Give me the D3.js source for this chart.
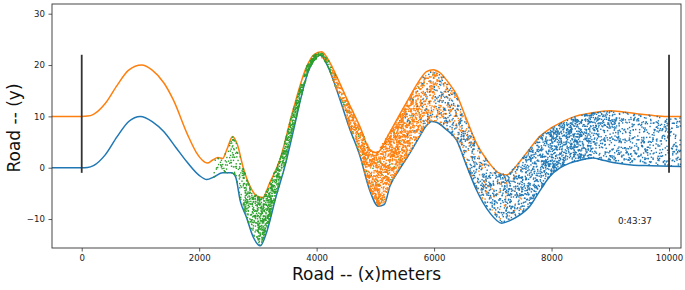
<!DOCTYPE html>
<html>
<head>
<meta charset="utf-8">
<script src="https://cdn.jsdelivr.net/npm/d3@7"></script>
<style>
  body { margin: 0; background: #fff; }
  svg { display: block; font-family: "DejaVu Sans", sans-serif; }
</style>
</head>
<body>
<svg id="chart" width="685" height="290"></svg>
<script>
// road edges (x in meters, y in road units)
const lowerX = [-506, 0, 100, 200, 400, 600, 800, 1000, 1200, 1400, 1600, 1800, 2000, 2130, 2250, 2400, 2550, 2620, 2700, 2800, 2920, 3040, 3150, 3300, 3460, 3600, 3720, 3850, 3950, 4060, 4200, 4400, 4550, 4740, 4900, 5050, 5150, 5250, 5400, 5590, 5750, 5870, 5960, 6050, 6200, 6380, 6550, 6720, 6950, 7150, 7290, 7450, 7630, 7800, 7970, 8150, 8310, 8500, 8700, 8900, 9100, 9400, 9700, 10204];
const lowerY = [0, 0, 0.05, 0.4, 2.5, 6, 9, 10, 9, 7, 4, 1, -1.5, -2.3, -1.8, -1.0, -1.0, -1.8, -6.5, -9.5, -13.5, -15.2, -12.5, -6, 0.3, 7, 13, 18.5, 20.8, 21.9, 19.5, 13.2, 8, 2.2, -4.3, -7.5, -7.2, -3.5, -0.5, 2.9, 6, 8.2, 9, 8.8, 7.5, 5.4, 0.5, -4.3, -8.8, -10.8, -10.3, -9.3, -7.5, -4.5, -1.7, 0, 0.9, 1.5, 1.9, 1.4, 0.9, 0.5, 0.4, 0.25];

const upperX = [-506, 0, 100, 200, 400, 600, 800, 1020, 1200, 1400, 1560, 1800, 1950, 2050, 2140, 2230, 2320, 2400, 2470, 2570, 2650, 2750, 2865, 2980, 3080, 3200, 3375, 3600, 3830, 3950, 4085, 4200, 4340, 4550, 4737, 4900, 5020, 5250, 5420, 5590, 5750, 5870, 5985, 6100, 6250, 6380, 6550, 6720, 6900, 7100, 7230, 7460, 7650, 7800, 8000, 8141, 8400, 8651, 8991, 9200, 9446, 9700, 9957, 10204];
const upperY = [10, 10, 10.05, 10.4, 12.5, 16, 19, 20, 19, 16.5, 13.2, 6.5, 3, 1.5, 0.9, 1.5, 2.0, 1.8, 3.5, 6.1, 4.5, 0, -3.6, -5.5, -5.8, -3, 1.6, 11.3, 19.7, 22, 22.6, 21, 17.8, 12.5, 8.0, 3.6, 2.9, 7.0, 10.5, 13.9, 17, 18.7, 19.1, 18.5, 16.5, 14.3, 9.5, 4.8, 1.5, -1.0, -1.4, 1.2, 4, 6.1, 7.8, 8.7, 10, 10.6, 11.1, 10.9, 10.5, 10.2, 10.0, 10.0];

// scatter: dots per 250 m stretch of road, by colour
const binStart = [2250, 2500, 2750, 3000, 3250, 3500, 3750, 4000, 4250, 4500, 4750, 5000, 5250, 5500, 5750, 6000, 6250, 6500, 6750, 7000, 7250, 7500, 7750, 8000, 8250, 8500, 8750, 9000, 9250, 9500, 9750, 10000];
const greenCounts  = [30, 80, 200, 320, 200, 180, 120, 50, 25, 20, 18, 20, 15, 8, 4, 0, 0, 0, 0, 0, 0, 0, 0, 0, 0, 0, 0, 0, 0, 0, 0, 0];
const orangeCounts = [0, 0, 0, 0, 0, 0, 0, 6, 70, 170, 280, 380, 380, 300, 190, 110, 70, 50, 40, 28, 18, 0, 0, 0, 0, 0, 0, 0, 0, 0, 0, 0];
const blueCounts   = [0, 0, 0, 0, 0, 0, 0, 0, 0, 0, 0, 0, 0, 15, 30, 70, 85, 95, 105, 120, 150, 190, 210, 220, 220, 180, 140, 120, 105, 100, 90, 80];
const binWidth = 250;

const yTicks = [-10, 0, 10, 20, 30];
const xTicks = [0, 2000, 4000, 6000, 8000, 10000];
const markers = [0, 10000];
const markerRange = [-1, 22];
const clockText = "0:43:37";

const blue = "#1f77b4", orange = "#ff7f0e", green = "#2ca02c";

const margin = {left: 52, top: 4, right: 4, bottom: 42};
const width = 685, height = 290;
const svg = d3.select("#chart");

const x = d3.scaleLinear().domain([-506, 10204]).range([margin.left, width - margin.right]);
const y = d3.scaleLinear().domain([-15.64, 31.89]).range([height - margin.bottom, margin.top]);

svg.append("clipPath").attr("id", "plotclip")
    .append("rect")
    .attr("x", margin.left).attr("y", margin.top)
    .attr("width", width - margin.left - margin.right)
    .attr("height", height - margin.top - margin.bottom);

const plot = svg.append("g").attr("clip-path", "url(#plotclip)");

// edges as piecewise functions for placing dots
const lowAt = d3.scaleLinear().domain(lowerX).range(lowerY);
const upAt = d3.scaleLinear().domain(upperX).range(upperY);

const line = d3.line().x(d => x(d[0])).y(d => y(d[1])).curve(d3.curveMonotoneX);

plot.append("path")
    .datum(lowerX.map((v, i) => [v, lowerY[i]]))
    .attr("d", line).attr("fill", "none")
    .attr("stroke", blue).attr("stroke-width", 1.5);
plot.append("path")
    .datum(upperX.map((v, i) => [v, upperY[i]]))
    .attr("d", line).attr("fill", "none")
    .attr("stroke", orange).attr("stroke-width", 1.5);

// integer hash -> fixed, evenly scattered spots inside each stretch of road
function hash01(i) {
    let h = Math.imul(i ^ 0x9e3779b9, 0x85ebca6b);
    h ^= h >>> 13;
    h = Math.imul(h, 0xc2b2ae35);
    h ^= h >>> 16;
    return (h >>> 0) / 4294967296;
}
let seq = 1;
function dotsFor(counts) {
    const pts = [];
    counts.forEach((n, k) => {
        for (let j = 0; j < n; j++) {
            const xv = binStart[k] + hash01(2 * seq) * binWidth;
            const t = hash01(2 * seq + 1);
            seq++;
            const lo = lowAt(xv), hi = upAt(xv);
            pts.push([xv, lo + (hi - lo) * t]);
        }
    });
    return pts;
}

[[greenCounts, green], [orangeCounts, orange], [blueCounts, blue]].forEach(([counts, c]) => {
    plot.append("g")
        .selectAll("rect")
        .data(dotsFor(counts))
        .join("rect")
        .attr("x", d => x(d[0]) - 0.7)
        .attr("y", d => y(d[1]) - 0.7)
        .attr("width", 1.4).attr("height", 1.4)
        .attr("fill", c);
});

plot.append("g")
    .selectAll("line")
    .data(markers)
    .join("line")
    .attr("x1", d => x(d)).attr("x2", d => x(d))
    .attr("y1", y(markerRange[0])).attr("y2", y(markerRange[1]))
    .attr("stroke", "#333").attr("stroke-width", 1.8);

plot.append("text")
    .attr("x", x(9130)).attr("y", y(-10.4))
    .attr("dominant-baseline", "middle")
    .attr("font-size", 8.8).attr("fill", "#222")
    .text(clockText);

// axes
const xAxis = svg.append("g")
    .attr("transform", `translate(0,${height - margin.bottom})`)
    .call(d3.axisBottom(x).tickValues(xTicks).tickFormat(d3.format("d")).tickSize(3.5).tickPadding(3.5));
const yAxis = svg.append("g")
    .attr("transform", `translate(${margin.left},0)`)
    .call(d3.axisLeft(y).tickValues(yTicks).tickFormat(d => d < 0 ? "\u2212" + Math.abs(d) : d).tickSize(3.5).tickPadding(3.5));
[xAxis, yAxis].forEach(a => {
    a.selectAll("text").attr("font-size", 8.6).attr("fill", "#222").attr("font-family", "DejaVu Sans");
    a.selectAll("line").attr("stroke", "#333").attr("stroke-width", 0.8);
    a.select(".domain").remove();
});

svg.append("rect")
    .attr("x", margin.left).attr("y", margin.top)
    .attr("width", width - margin.left - margin.right)
    .attr("height", height - margin.top - margin.bottom)
    .attr("fill", "none").attr("stroke", "#333").attr("stroke-width", 0.9);

svg.append("text")
    .attr("x", (margin.left + width - margin.right) / 2)
    .attr("y", 280)
    .attr("text-anchor", "middle")
    .attr("font-size", 17).attr("fill", "#111")
    .text("Road -- (x)meters");

svg.append("text")
    .attr("transform", "translate(19.5,128) rotate(-90)")
    .attr("text-anchor", "middle")
    .attr("font-size", 17).attr("fill", "#111")
    .text("Road -- (y)");
</script>
</body>
</html>
